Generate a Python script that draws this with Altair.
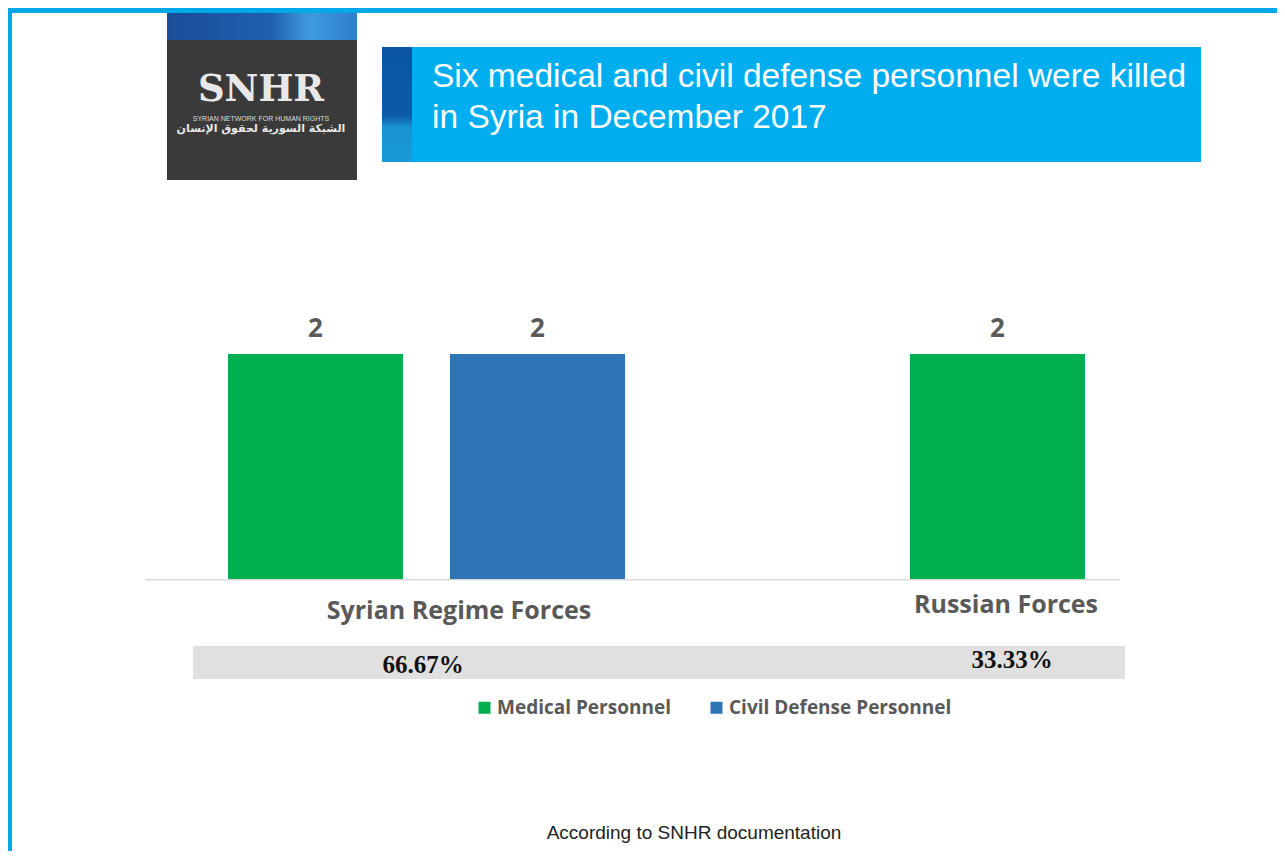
import altair as alt
import pandas as pd

# ---- data ----
categories = ["Syrian Regime Forces", "Syrian Regime Forces", "Russian Forces"]
series = ["Medical Personnel", "Civil Defense Personnel", "Medical Personnel"]
values = [2, 2, 2]

series_order = ["Medical Personnel", "Civil Defense Personnel"]
series_colors = ["#00b050", "#2e75b6"]

title_lines = ["Six medical and civil defense personnel were killed", "in Syria in December 2017"]
footer = "According to SNHR documentation"

# ---- layout (pixels inside the chart) ----
W, H = 1269, 843
BAR_W = 175
bar_center = {("Syrian Regime Forces", "Medical Personnel"): 307.5,
              ("Syrian Regime Forces", "Civil Defense Personnel"): 529.5,
              ("Russian Forces", "Medical Personnel"): 989.5}
cat_label_pos = {"Syrian Regime Forces": (451, 611), "Russian Forces": (998, 605)}
pct_label_pos = {"Syrian Regime Forces": (415, 665), "Russian Forces": (1004, 660)}

bars = pd.DataFrame({"category": categories, "series": series, "value": values})
bars["cx"] = [bar_center[(c, s)] for c, s in zip(categories, series)]
bars["x0"] = bars["cx"] - BAR_W / 2
bars["x1"] = bars["cx"] + BAR_W / 2

cats = list(dict.fromkeys(categories))
total = sum(values)
cat_df = pd.DataFrame({"category": cats})
cat_df["share"] = [sum(v for c, v in zip(categories, values) if c == k) / total for k in cats]
cat_df["lx"] = [cat_label_pos[k][0] for k in cats]
cat_df["ly"] = [cat_label_pos[k][1] for k in cats]
cat_df["px"] = [pct_label_pos[k][0] for k in cats]
cat_df["py"] = [pct_label_pos[k][1] for k in cats]

xs = alt.Scale(domain=[0, W], range=[0, W], nice=False, zero=False)
ys = alt.Scale(domain=[0, 2], range=[571, 346], nice=False)
pix_y = alt.Scale(domain=[0, H], range=[0, H], nice=False, zero=False)

one = pd.DataFrame({"d": [0]})


def rect(x, x2, y, y2, color):
    return alt.Chart(one).mark_rect(color=color).encode(
        x=alt.value(x), x2=alt.value(x2), y=alt.value(y), y2=alt.value(y2))


def label(text, x, y, size, color, font="Liberation Sans", weight="normal", align="center"):
    return alt.Chart(pd.DataFrame({"t": [text]})).mark_text(
        fontSize=size, color=color, font=font, fontWeight=weight, align=align,
        baseline="alphabetic").encode(x=alt.value(x), y=alt.value(y), text="t:N")


# frame
frame_top = rect(0, W, 0, 5, "#00a8e8")
frame_left = rect(0, 4, 0, H, "#00a8e8")

# logo
logo_box = rect(159, 349, 5, 172, "#3a3a3a")
logo_top = alt.Chart(one).mark_rect(
    color=alt.LinearGradient(gradient="linear", x1=0, x2=1, y1=0, y2=0,
                             stops=[alt.GradientStop(color="#1a4d99", offset=0),
                                    alt.GradientStop(color="#1f5fae", offset=0.55),
                                    alt.GradientStop(color="#3f9be0", offset=0.75),
                                    alt.GradientStop(color="#2f7fcb", offset=1)])
).encode(x=alt.value(159), x2=alt.value(349), y=alt.value(5), y2=alt.value(32))
logo_name = label("SNHR", 253, 93, 37, "#e8e8e8", font="DejaVu Serif", weight="bold")
logo_sub = label("SYRIAN NETWORK FOR HUMAN RIGHTS", 253, 113, 7, "#dcdcdc")
logo_ar = label("الشبكة السورية لحقوق الإنسان", 253, 124, 11, "#e8e8e8", font="DejaVu Sans", weight="bold")

# title banner
banner = rect(374, 1193, 39, 154, "#00aeef")
stripe = alt.Chart(one).mark_rect(
    color=alt.LinearGradient(gradient="linear", x1=0, x2=0, y1=0, y2=1,
                             stops=[alt.GradientStop(color="#0b55a2", offset=0),
                                    alt.GradientStop(color="#0c5ba8", offset=0.6),
                                    alt.GradientStop(color="#1a93d2", offset=0.7),
                                    alt.GradientStop(color="#1b9ad8", offset=1)])
).encode(x=alt.value(374), x2=alt.value(404), y=alt.value(39), y2=alt.value(154))
t1 = label(title_lines[0], 424, 79, 33.5, "white", align="left")
t2 = label(title_lines[1], 424, 120, 33.5, "white", align="left")

# baseline & percentage band
baseline = rect(137, 1112, 571, 572.5, "#d9d9d9")
band = rect(185, 1117, 638, 671, "#e0e0e0")

# bars
bar_layer = alt.Chart(bars).mark_bar().encode(
    x=alt.X("x0:Q", scale=xs, axis=None),
    x2="x1:Q",
    y=alt.Y("value:Q", scale=ys, axis=None),
    y2=alt.datum(0),
    color=alt.Color("series:N", scale=alt.Scale(domain=series_order, range=series_colors),
                    legend=alt.Legend(orient="none", legendX=467, legendY=690, direction="horizontal",
                                      title=None, symbolType="square", symbolSize=144,
                                      symbolStrokeWidth=0, labelFont="Open Sans", labelFontSize=19,
                                      labelFontWeight="bold", labelColor="#595959",
                                      labelOffset=3, columnPadding=36, labelLimit=400)),
)
value_labels = alt.Chart(bars).mark_text(
    fontSize=26, fontWeight="bold", font="Open Sans", color="#595959", dy=-17, baseline="alphabetic"
).encode(x=alt.X("cx:Q", scale=xs, axis=None), y=alt.Y("value:Q", scale=ys, axis=None),
         text=alt.Text("value:Q"))

cat_labels = alt.Chart(cat_df).mark_text(
    fontSize=25, fontWeight="bold", font="Open Sans", color="#595959", baseline="alphabetic"
).encode(x=alt.X("lx:Q", scale=xs, axis=None), y=alt.Y("ly:Q", scale=pix_y, axis=None),
         text="category:N")
pct_labels = alt.Chart(cat_df).mark_text(
    fontSize=25, fontWeight="bold", font="Liberation Serif", color="#111111", baseline="alphabetic"
).encode(x=alt.X("px:Q", scale=xs, axis=None), y=alt.Y("py:Q", scale=pix_y, axis=None),
         text=alt.Text("share:Q", format=".2%"))

foot = label(footer, 686, 831, 19, "#222222")

chart = alt.layer(
    frame_top, frame_left, logo_box, logo_top, logo_name, logo_sub, logo_ar,
    banner, stripe, t1, t2, baseline, band,
    bar_layer, value_labels, cat_labels, pct_labels, foot
).resolve_scale(y="independent").properties(
    width=W, height=H, padding=0,
    autosize=alt.AutoSizeParams(type="fit", contains="padding"),
    background="white"
).configure_view(stroke=None)

chart.save("out.html", embed_options={"renderer": "svg", "actions": False})
